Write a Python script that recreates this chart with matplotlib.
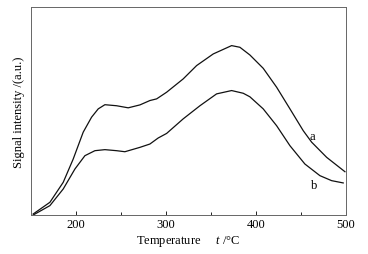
import matplotlib.pyplot as plt

plt.rcParams['font.family'] = ['Liberation Serif', 'DejaVu Serif']
plt.rcParams['mathtext.fontset'] = 'custom'
plt.rcParams['mathtext.it'] = 'Liberation Serif:italic'
plt.rcParams['mathtext.rm'] = 'Liberation Serif'

# curve a
temp_a = [152.6, 171.1, 185.9, 197.0, 208.1, 217.4, 224.8, 232.2, 245.2, 258.1,
          271.1, 282.2, 289.7, 300.8, 319.2, 334.1, 352.6, 373.0, 382.2, 393.3,
          408.1, 423.0, 437.8, 452.6, 461.9, 478.6, 498.9]
sig_a = [0.005, 0.061, 0.157, 0.269, 0.398, 0.470, 0.510, 0.530, 0.525, 0.515,
         0.529, 0.550, 0.558, 0.590, 0.654, 0.718, 0.774, 0.814, 0.806, 0.769,
         0.705, 0.614, 0.510, 0.405, 0.350, 0.277, 0.208]

# curve b
temp_b = [152.6, 171.1, 185.9, 198.9, 210.0, 221.1, 232.2, 245.2, 254.4, 271.1,
          282.2, 291.4, 300.8, 319.2, 337.8, 356.3, 373.0, 385.9, 393.3, 408.1,
          423.0, 437.8, 454.4, 471.1, 484.1, 497.0]
sig_b = [0.0, 0.045, 0.125, 0.221, 0.285, 0.309, 0.314, 0.309, 0.304, 0.325,
         0.341, 0.370, 0.392, 0.462, 0.525, 0.582, 0.598, 0.585, 0.568, 0.510,
         0.429, 0.333, 0.245, 0.189, 0.165, 0.154]

fig = plt.figure(figsize=(3.68, 2.55), dpi=100)
ax = fig.add_axes([0.084, 0.153, 0.856, 0.816])

ax.plot(temp_a, sig_a, color='#111111', lw=0.9)
ax.plot(temp_b, sig_b, color='#111111', lw=0.9)
ax.text(463, 0.378, 'a', fontsize=9, ha='center', va='center')
ax.text(465, 0.145, 'b', fontsize=9, ha='center', va='center')

ax.set_xlim(150, 500)
ax.set_ylim(0, 1)
ax.set_xticks([200, 300, 400, 500])
ax.set_xticks([250, 350, 450], minor=True)
ax.set_yticks([])
ax.tick_params(axis='x', direction='in', length=3, width=0.6, labelsize=9, pad=2)
ax.tick_params(axis='x', which='minor', direction='in', length=2, width=0.6)
for s in ax.spines.values():
    s.set_color('#666666')
    s.set_linewidth(0.7)

ax.set_xlabel(r'Temperature     $\it{t}$ /°C', fontsize=9, labelpad=2)
ax.set_ylabel('Signal intensity /(a.u.)', fontsize=9, labelpad=4)

fig.savefig('out.png', dpi=100)
